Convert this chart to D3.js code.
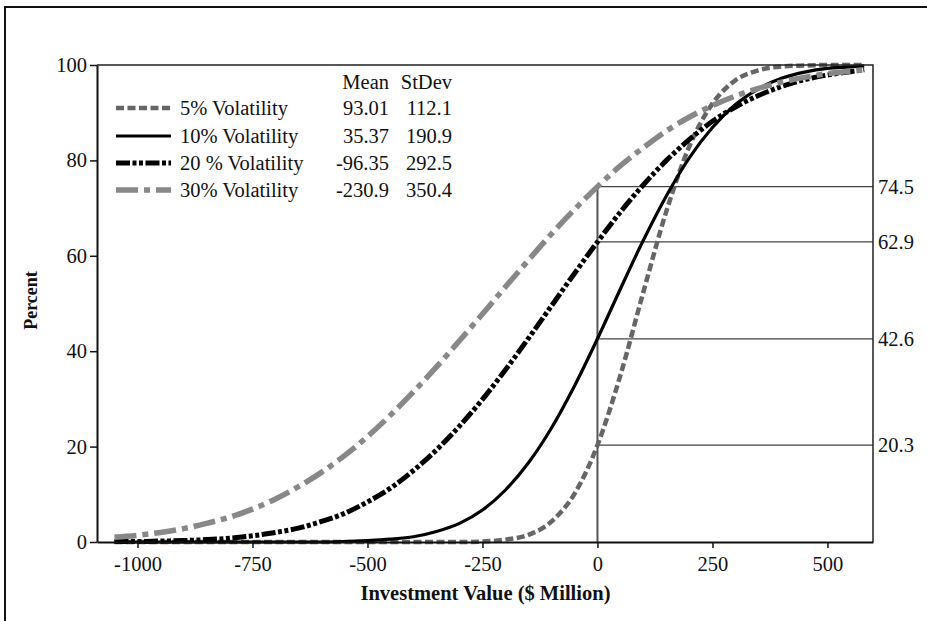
<!DOCTYPE html>
<meta charset="utf-8">
<script src="https://d3js.org/d3.v7.min.js"></script>
<style>
  body { margin: 0; background: #fff; }
  text { font-family: "Liberation Serif", "Times New Roman", serif; fill: #111; }
</style>
<div id="chart"></div>
<script>
// investment values on the x axis ($ Million)
const xValues = [-1050, -1000, -950, -900, -850, -800, -750, -700, -650, -600, -550, -500,
  -450, -400, -350, -300, -250, -200, -150, -100, -50, 0, 50, 100, 150, 200, 250, 300,
  350, 400, 450, 500, 550, 580];

// cumulative percent
const vol5 = [0, 0, 0, 0, 0, 0, 0, 0, 0, 0, 0, 0,
  0, 0, 0, 0, 0.1, 0.5, 1.5, 4.3, 10.1, 20.3, 35.0, 52.5, 69.4, 83.0, 91.9, 96.8,
  98.9, 99.7, 99.9, 100, 100, 100];
const vol10 = [0, 0, 0, 0, 0, 0, 0, 0, 0, 0, 0.1, 0.3,
  0.6, 1.1, 2.2, 3.9, 6.7, 10.9, 16.6, 23.9, 32.7, 42.6, 53.1, 63.3, 72.6, 80.6, 86.9, 91.7,
  95.0, 97.2, 98.5, 99.3, 99.6, 99.8];
const vol20 = [0.1, 0.1, 0.2, 0.3, 0.5, 0.8, 1.3, 2.0, 2.9, 4.3, 6.0, 8.4,
  11.3, 15.0, 19.3, 24.3, 29.9, 36.1, 42.7, 49.5, 56.3, 62.9, 69.2, 74.9, 80.0, 84.4, 88.2, 91.2,
  93.6, 95.5, 96.9, 97.9, 98.6, 99.0];
const vol30 = [1.0, 1.4, 2.0, 2.8, 3.9, 5.2, 6.9, 9.0, 11.6, 14.6, 18.1, 22.1,
  26.6, 31.5, 36.7, 42.2, 47.8, 53.5, 59.1, 64.6, 69.7, 74.5, 78.9, 82.7, 86.2, 89.1, 91.5, 93.5,
  95.1, 96.4, 97.4, 98.2, 98.7, 99.0];

const seriesNames = ["5% Volatility", "10% Volatility", "20 % Volatility", "30% Volatility"];
const means = ["93.01", "35.37", "-96.35", "-230.9"];
const stdevs = ["112.1", "190.9", "292.5", "350.4"];

const refValues = [74.5, 62.9, 42.6, 20.3];
const xTicks = [-1000, -750, -500, -250, 0, 250, 500];
const yTicks = [0, 20, 40, 60, 80, 100];

const styles = [
  {color: "#666", width: 4.5, dash: "8,3.5"},
  {color: "#000", width: 3.2, dash: null},
  {color: "#000", width: 5, dash: "14,2.5,4,2.5,4,2.5"},
  {color: "#888", width: 5.5, dash: "22,6,6,6"}
];

const fs = "20.5px";
const W = 927, H = 621;
const margin = {top: 65, right: 54, bottom: 79, left: 97},
  width = W - margin.left - margin.right,
  height = H - margin.top - margin.bottom;

const root = d3.select("#chart").append("svg")
  .attr("width", W)
  .attr("height", H);

// outer frame (top + left)
root.append("path")
  .attr("d", `M5,${H} L5,7 L${W},7`)
  .attr("fill", "none")
  .attr("stroke", "#111")
  .attr("stroke-width", 2);

const svg = root.append("g")
  .attr("transform", `translate(${margin.left},${margin.top})`);

const x = d3.scaleLinear().domain([-1088, 599]).range([0, width]);
const y = d3.scaleLinear().domain([0, 100]).range([height, 0]);

// reference lines
svg.append("line")
  .attr("x1", x(0)).attr("x2", x(0))
  .attr("y1", y(0)).attr("y2", y(refValues[0]))
  .attr("stroke", "#555").attr("stroke-width", 2);

svg.selectAll(".ref")
  .data(refValues)
  .join("line")
  .attr("class", "ref")
  .attr("x1", x(0)).attr("x2", width)
  .attr("y1", d => y(d)).attr("y2", d => y(d))
  .attr("stroke", "#444").attr("stroke-width", 1.2);

svg.selectAll(".refLabel")
  .data(refValues)
  .join("text")
  .attr("class", "refLabel")
  .attr("x", width + 5)
  .attr("y", d => y(d))
  .attr("dy", "0.35em")
  .style("font-size", fs)
  .text(d => d.toFixed(1));

// curves
const allSeries = [vol5, vol10, vol20, vol30];
const line = d3.line()
  .x((d, i) => x(xValues[i]))
  .y(d => y(d))
  .curve(d3.curveMonotoneX);

allSeries.forEach((s, k) => {
  svg.append("path")
    .datum(s)
    .attr("d", line)
    .attr("fill", "none")
    .attr("stroke", styles[k].color)
    .attr("stroke-width", styles[k].width)
    .attr("stroke-dasharray", styles[k].dash);
});

// frame top + right
svg.append("path")
  .attr("d", `M0,0 L${width},0 L${width},${height}`)
  .attr("fill", "none")
  .attr("stroke", "#222")
  .attr("stroke-width", 1.5);

// axes
const xAxis = svg.append("g")
  .attr("transform", `translate(0,${height})`)
  .call(d3.axisBottom(x).tickValues(xTicks).tickFormat(d => String(d))
    .tickSize(6).tickPadding(8).tickSizeOuter(0));
const yAxis = svg.append("g")
  .call(d3.axisLeft(y).tickValues(yTicks).tickFormat(d => String(d))
    .tickSize(7).tickPadding(3).tickSizeOuter(0));

[xAxis, yAxis].forEach(a => {
  a.attr("font-family", null).attr("font-size", null);
  a.select(".domain").attr("stroke", "#111").attr("stroke-width", 2);
  a.selectAll(".tick line").attr("stroke", "#111").attr("stroke-width", 1.5);
  a.selectAll("text")
    .style("font-size", fs)
    .attr("fill", "#111");
});

svg.append("text")
  .attr("x", x(-250) + 3)
  .attr("y", height + 58)
  .style("text-anchor", "middle")
  .style("font-size", fs)
  .style("font-weight", "bold")
  .text("Investment Value ($ Million)");

svg.append("text")
  .attr("transform", "rotate(-90)")
  .attr("x", -(height / 2) + 3)
  .attr("y", -60)
  .style("text-anchor", "middle")
  .style("font-size", "18px")
  .style("font-weight", "bold")
  .text("Percent");

// legend
const legend = root.append("g");
const rowY = [108, 136, 163, 190];

legend.append("text").attr("x", 389).attr("y", 82).attr("dy", "0.35em")
  .style("text-anchor", "end").style("font-size", fs).text("Mean");
legend.append("text").attr("x", 452).attr("y", 82).attr("dy", "0.35em")
  .style("text-anchor", "end").style("font-size", fs).text("StDev");

seriesNames.forEach((name, k) => {
  legend.append("line")
    .attr("x1", 116).attr("x2", 171)
    .attr("y1", rowY[k]).attr("y2", rowY[k])
    .attr("stroke", styles[k].color)
    .attr("stroke-width", styles[k].width)
    .attr("stroke-dasharray", styles[k].dash);
  legend.append("text").attr("x", 180).attr("y", rowY[k]).attr("dy", "0.35em")
    .style("font-size", fs).text(name);
  legend.append("text").attr("x", 389).attr("y", rowY[k]).attr("dy", "0.35em")
    .style("text-anchor", "end").style("font-size", fs).text(means[k]);
  legend.append("text").attr("x", 452).attr("y", rowY[k]).attr("dy", "0.35em")
    .style("text-anchor", "end").style("font-size", fs).text(stdevs[k]);
});
</script>
